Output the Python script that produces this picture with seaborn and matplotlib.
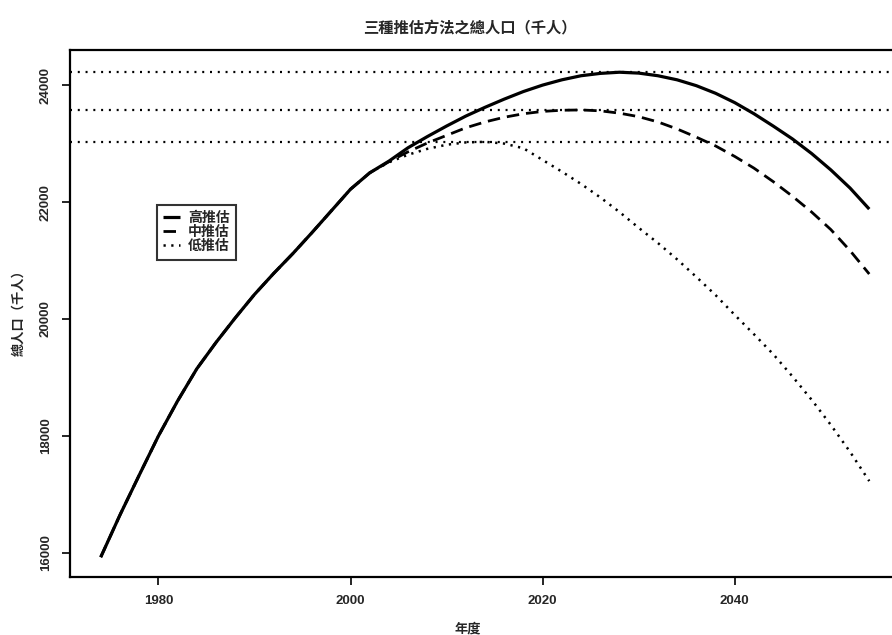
import matplotlib
matplotlib.use("Agg")
import matplotlib.pyplot as plt
import seaborn as sns
import pandas as pd
from matplotlib.lines import Line2D

# ---- data (thousand persons) ----
hist_years = [1974, 1976, 1978, 1980, 1982, 1984, 1986, 1988, 1990, 1992, 1994,
              1996, 1998, 2000, 2002]
hist_vals = [15930, 16650, 17330, 18000, 18600, 19150, 19600, 20020, 20420, 20780,
             21120, 21480, 21850, 22220, 22500]

proj_years = [2004, 2006, 2008, 2010, 2012, 2014, 2016, 2018, 2020, 2022, 2024,
              2026, 2028, 2030, 2032, 2034, 2036, 2038, 2040, 2042, 2044, 2046,
              2048, 2050, 2052, 2054]
high_vals = [22700, 22930, 23120, 23300, 23470, 23620, 23760, 23890, 24000, 24090,
             24160, 24200, 24220, 24205, 24160, 24090, 23990, 23860, 23700, 23510,
             23300, 23080, 22830, 22550, 22240, 21880]
mid_vals = [22690, 22860, 23010, 23140, 23270, 23370, 23450, 23510, 23550, 23570,
            23575, 23560, 23520, 23460, 23370, 23250, 23110, 22960, 22780, 22580,
            22350, 22100, 21830, 21530, 21170, 20770]
low_vals = [22680, 22810, 22910, 22980, 23020, 23030, 23000, 22920, 22720, 22520,
            22310, 22080, 21830, 21560, 21300, 21020, 20720, 20410, 20070, 19740,
            19400, 19020, 18620, 18190, 17730, 17230]

series_names = ["高推估", "中推估", "低推估"]
title_text = "三種推估方法之總人口（千人）"
xlabel_text = "年度"
ylabel_text = "總人口（千人）"
xticks = [1980, 2000, 2020, 2040]
yticks = [16000, 18000, 20000, 22000, 24000]

# ---- build long table ----
rows = []
for name, vals in zip(series_names, [high_vals, mid_vals, low_vals]):
    for y, v in zip(hist_years + proj_years, hist_vals + vals):
        rows.append({"year": y, "pop": v, "series": name})
df = pd.DataFrame(rows)

sns.set_theme(style="white")
plt.rcParams["font.family"] = ["Noto Sans CJK TC", "DejaVu Sans"]
plt.rcParams["font.weight"] = "bold"
num_font = ["Liberation Sans", "DejaVu Sans"]

fig = plt.figure(figsize=(8.92, 6.35), dpi=100)
ax = fig.add_axes([70 / 892, 58 / 635, 830 / 892, 527 / 635])

styles = {"高推估": ((0, ()), 2.3), "中推估": ((0, (4.5, 2.5)), 2.0), "低推估": ((0, (0.9, 2.2)), 1.8)}
for name in series_names:
    ls, lw = styles[name]
    sub = df[df["series"] == name]
    sns.lineplot(data=sub, x="year", y="pop", ax=ax, color="black",
                 linestyle=ls, linewidth=lw, legend=False)

# horizontal reference lines at each series' peak
for name in series_names:
    peak = df.loc[df["series"] == name, "pop"].max()
    ax.axhline(peak, color="black", linestyle=(0, (0.9, 2.6)), linewidth=1.6)

ax.set_xlim(1970.8, 2057.2)
ax.set_ylim(15590, 24600)
ax.set_xticks(xticks)
ax.set_yticks(yticks)
ax.set_xticklabels([str(t) for t in xticks], fontsize=9.5, fontweight="bold",
                   family=num_font)
ax.set_yticklabels([str(t) for t in yticks], fontsize=9.5, fontweight="bold",
                   family=num_font, rotation=90, va="center")
ax.tick_params(axis="both", direction="out", length=6, width=1.2, color="black",
               bottom=True, left=True, pad=7)
for sp in ax.spines.values():
    sp.set_color("black")
    sp.set_linewidth(1.6)
ax.set_xlabel("")
ax.set_ylabel("")

fig.text(470 / 892, 1 - 28 / 635, title_text, ha="center", va="center",
         fontsize=11, fontweight="bold")
fig.text(468 / 892, 1 - 628 / 635, xlabel_text, ha="center", va="center",
         fontsize=9.5, fontweight="bold")
fig.text(18 / 892, 1 - 310 / 635, ylabel_text, ha="center", va="center",
         fontsize=9.5, fontweight="bold", rotation=90)

handles = [Line2D([], [], color="black", linestyle=styles[n][0], linewidth=styles[n][1])
           for n in series_names]
leg = ax.legend(handles, series_names, loc="upper left",
                bbox_to_anchor=((157 - 70) / 830, (577 - 205) / 527),
                prop={"weight": "bold", "size": 10}, frameon=True, fancybox=False,
                handlelength=1.2, handletextpad=0.6, borderpad=0.45,
                labelspacing=0.0, borderaxespad=0)
leg.get_frame().set_edgecolor("black")
leg.get_frame().set_linewidth(1.5)

fig.savefig("out.png", dpi=100)
